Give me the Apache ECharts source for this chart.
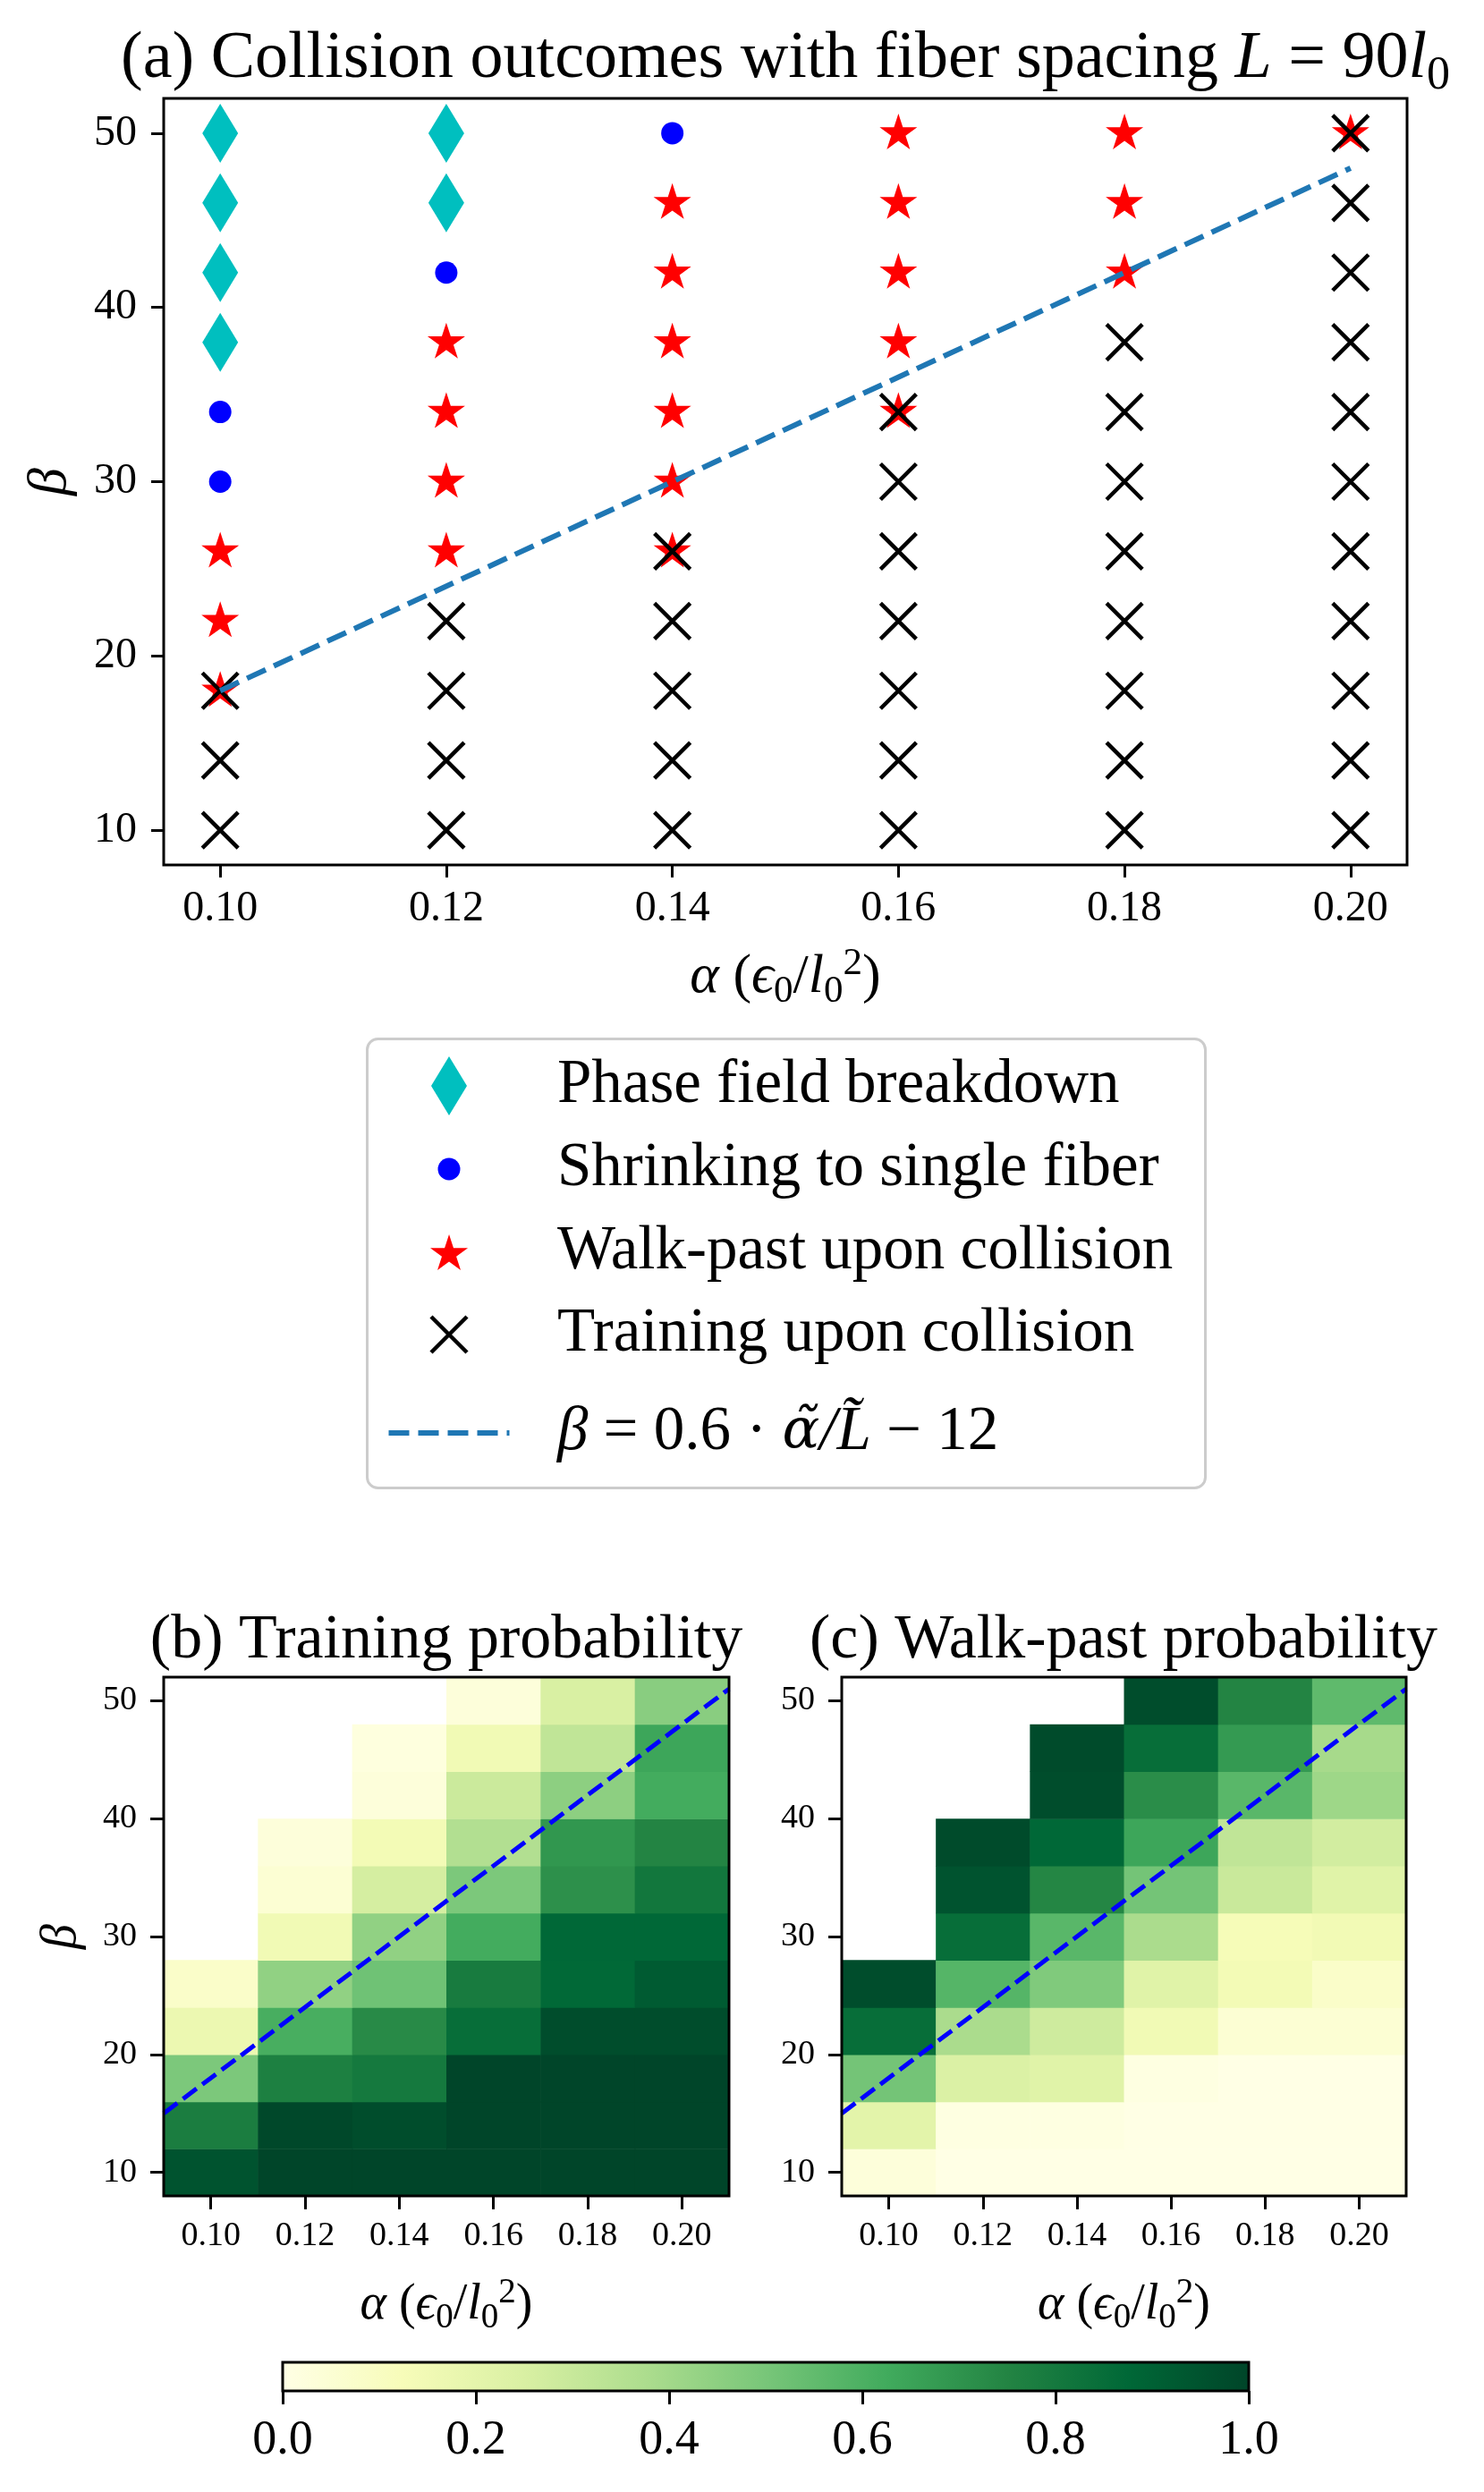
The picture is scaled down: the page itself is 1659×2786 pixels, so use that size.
<!DOCTYPE html>
<html>
<head>
<meta charset="utf-8">
<script src="https://cdn.jsdelivr.net/npm/echarts@6/dist/echarts.min.js"></script>
<style>
html,body{margin:0;padding:0;background:#fff;}
#chart{width:1659px;height:2786px;}
</style>
</head>
<body>
<div id="chart"></div>
<script>
// ---------------- DATA ----------------
const alphaValues = [0.10, 0.12, 0.14, 0.16, 0.18, 0.20];
const betaValues = [10, 14, 18, 22, 26, 30, 34, 38, 42, 46, 50];
const alphaTicks = [0.10, 0.12, 0.14, 0.16, 0.18, 0.20];
const betaTicks = [10, 20, 30, 40, 50];
const colorbarTicks = [0, 0.2, 0.4, 0.6, 0.8, 1.0];
const colorbarRange = [0, 1];

// (a) collision outcomes [alpha, beta]
const breakdownPts = [[0.10, 38], [0.10, 42], [0.10, 46], [0.10, 50], [0.12, 46], [0.12, 50]];
const shrinkPts = [[0.10, 30], [0.10, 34], [0.12, 42], [0.14, 50]];
const walkPastPts = [
  [0.10, 18], [0.10, 22], [0.10, 26],
  [0.12, 26], [0.12, 30], [0.12, 34], [0.12, 38],
  [0.14, 26], [0.14, 30], [0.14, 34], [0.14, 38], [0.14, 42], [0.14, 46],
  [0.16, 34], [0.16, 38], [0.16, 42], [0.16, 46], [0.16, 50],
  [0.18, 42], [0.18, 46], [0.18, 50],
  [0.20, 50]
];
const trainingPts = [
  [0.10, 10], [0.10, 14], [0.10, 18],
  [0.12, 10], [0.12, 14], [0.12, 18], [0.12, 22],
  [0.14, 10], [0.14, 14], [0.14, 18], [0.14, 22], [0.14, 26],
  [0.16, 10], [0.16, 14], [0.16, 18], [0.16, 22], [0.16, 26], [0.16, 30], [0.16, 34],
  [0.18, 10], [0.18, 14], [0.18, 18], [0.18, 22], [0.18, 26], [0.18, 30], [0.18, 34], [0.18, 38],
  [0.20, 10], [0.20, 14], [0.20, 18], [0.20, 22], [0.20, 26], [0.20, 30], [0.20, 34], [0.20, 38], [0.20, 42], [0.20, 46], [0.20, 50]
];
// dashed fit line endpoints
const fitLineA = [[0.10, 18], [0.20, 48]];
const fitLineHeat = [[0.09, 15], [0.21, 51]];

// (b)/(c) probabilities: rows = beta 10..50, cols = alpha 0.10..0.20 ; null = no data
const trainingProb = [
  [0.95, 1.00, 1.00, 1.00, 1.00, 1.00],
  [0.78, 0.99, 0.97, 1.00, 1.00, 1.00],
  [0.49, 0.77, 0.80, 1.00, 1.00, 1.00],
  [0.17, 0.61, 0.73, 0.85, 0.97, 0.97],
  [0.08, 0.44, 0.52, 0.79, 0.87, 0.92],
  [null, 0.15, 0.44, 0.62, 0.875, 0.875],
  [null, 0.05, 0.26, 0.49, 0.71, 0.81],
  [null, 0.03, 0.14, 0.36, 0.69, 0.75],
  [null, null, 0.03, 0.29, 0.45, 0.62],
  [null, null, 0.02, 0.15, 0.32, 0.64],
  [null, null, null, 0.03, 0.25, 0.46]
];
const walkPastProb = [
  [0.03, 0.00, 0.00, 0.00, 0.00, 0.00],
  [0.21, 0.01, 0.01, 0.00, 0.00, 0.00],
  [0.51, 0.24, 0.22, 0.01, 0.00, 0.00],
  [0.85, 0.38, 0.28, 0.15, 0.05, 0.05],
  [0.97, 0.58, 0.48, 0.22, 0.14, 0.08],
  [null, 0.85, 0.57, 0.38, 0.13, 0.145],
  [null, 0.95, 0.745, 0.51, 0.295, 0.22],
  [null, 0.98, 0.875, 0.64, 0.32, 0.27],
  [null, null, 0.97, 0.72, 0.57, 0.41],
  [null, null, 0.98, 0.85, 0.68, 0.39],
  [null, null, null, 0.97, 0.75, 0.556]
];
const ylgn = ['#ffffe5', '#f7fcb9', '#d9f0a3', '#addd8e', '#78c679', '#41ab5d', '#238443', '#006837', '#004529'];

// ---------------- TEXT ----------------
const FONT = '"Liberation Serif", "DejaVu Serif", serif';
const titleA = '(a) Collision outcomes with fiber spacing {i|L} = 90{i|l}{sub|0}';
const titleB = '(b) Training probability';
const titleC = '(c) Walk-past probability';
const alphaLabel = '{i|α} ({i|ϵ}{sub|0}/{i|l}{sub|0}{sup|2})';
const betaLabel = '{i|β}';
const NAME_BREAK = 'Phase field breakdown';
const NAME_SHRINK = 'Shrinking to single fiber';
const NAME_WALK = 'Walk-past upon collision';
const NAME_TRAIN = 'Training upon collision';
const NAME_FIT = 'β = 0.6 · α̃/L̃ − 12';
const fitLegendText = '{i|β} = 0.6 · {ga|α̃}{i|/L̃} − 12';

// ---------------- STYLE HELPERS ----------------
function richSet(size, lh) {
  return {
    i: {fontFamily: FONT, fontStyle: 'italic', fontSize: size, lineHeight: lh, color: '#000'},
    ga: {fontFamily: '"DejaVu Serif", serif', fontStyle: 'italic', fontSize: Math.round(size * 0.9), lineHeight: lh, color: '#000'},
    sub: {fontFamily: FONT, fontSize: Math.round(size * 0.7), lineHeight: Math.round(size * 0.5), verticalAlign: 'bottom', color: '#000'},
    sup: {fontFamily: FONT, fontSize: Math.round(size * 0.7), lineHeight: Math.round(size * 0.5), verticalAlign: 'top', color: '#000'}
  };
}
const DIAMOND = 'path://M0,-33L20,0L0,33L-20,0Z';
const STAR = 'path://M0,-100L22.45,-30.9L95.11,-30.9L36.33,11.8L58.78,80.9L0,38.2L-58.78,80.9L-36.33,11.8L-95.11,-30.9L-22.45,-30.9Z';
const XMARK = 'path://M0,0L10,10M10,0L0,10';
const DASHICON = 'path://M0,0h23v6h-23zM33,0h23v6h-23zM66,0h23v6h-23zM99,0h23v6h-23zM132,0h3v6h-3z';

const cellW = alphaValues[1] - alphaValues[0];
const cellH = betaValues[1] - betaValues[0];
const aSpan = alphaValues[alphaValues.length - 1] - alphaValues[0];
const bSpan = betaValues[betaValues.length - 1] - betaValues[0];
const topXMin = alphaValues[0] - 0.05 * aSpan, topXMax = alphaValues[alphaValues.length - 1] + 0.05 * aSpan;
const topYMin = betaValues[0] - 0.05 * bSpan, topYMax = betaValues[betaValues.length - 1] + 0.05 * bSpan;
const hmXMin = alphaValues[0] - cellW / 2, hmXMax = alphaValues[alphaValues.length - 1] + cellW / 2;
const hmYMin = betaValues[0] - cellH / 2, hmYMax = betaValues[betaValues.length - 1] + cellH / 2;

function cells(matrix) {
  const out = [];
  matrix.forEach((row, bi) => row.forEach((v, ai) => {
    if (v !== null) out.push([alphaValues[ai], betaValues[bi], v]);
  }));
  return out;
}
function renderCell(params, api) {
  const c = api.coord([api.value(0), api.value(1)]);
  const s = api.size([cellW, cellH]);
  return {
    type: 'rect',
    shape: {x: c[0] - s[0] / 2, y: c[1] - s[1] / 2, width: s[0] + 0.6, height: s[1] + 0.6},
    style: {fill: api.visual('color')}
  };
}
function renderColorbar(params, api) {
  const p0 = api.coord([api.value(0), 0]);
  const p1 = api.coord([api.value(1), 1]);
  const stops = ylgn.map((c, i) => ({offset: i / (ylgn.length - 1), color: c}));
  return {
    type: 'rect',
    shape: {x: p0[0], y: p1[1], width: p1[0] - p0[0], height: p0[1] - p1[1]},
    style: {fill: new echarts.graphic.LinearGradient(0, 0, 1, 0, stops)}
  };
}

function xAxisCfg(grid, min, max, ticks, fmt, fontSize, margin, tickLen, name, nameSize, nameGap) {
  const a = {
    gridIndex: grid, type: 'value', min: min, max: max,
    axisLine: {show: false, onZero: false},
    splitLine: {show: false},
    axisTick: {show: true, length: tickLen, lineStyle: {color: '#000', width: 3}, customValues: ticks},
    axisLabel: {customValues: ticks, formatter: fmt, fontFamily: FONT, fontSize: fontSize, color: '#000', margin: margin}
  };
  if (name) {
    a.name = name; a.nameLocation = 'middle'; a.nameGap = nameGap;
    a.nameTextStyle = {fontFamily: FONT, fontSize: nameSize, lineHeight: Math.round(nameSize * 1.2), color: '#000', rich: richSet(nameSize, Math.round(nameSize * 1.2))};
  }
  return a;
}
function yAxisCfg(grid, min, max, ticks, fontSize, margin, tickLen, name, nameSize, nameGap) {
  const a = {
    gridIndex: grid, type: 'value', min: min, max: max,
    axisLine: {show: false, onZero: false},
    splitLine: {show: false},
    axisTick: {show: true, length: tickLen, lineStyle: {color: '#000', width: 3}, customValues: ticks},
    axisLabel: {customValues: ticks, formatter: v => String(v), fontFamily: FONT, fontSize: fontSize, color: '#000', margin: margin}
  };
  if (name) {
    a.name = name; a.nameLocation = 'middle'; a.nameGap = nameGap; a.nameRotate = 90;
    a.nameTextStyle = {fontFamily: FONT, fontSize: nameSize, lineHeight: Math.round(nameSize * 1.2), color: '#000', rich: richSet(nameSize, Math.round(nameSize * 1.2))};
  }
  return a;
}
const gridBase = {show: true, borderColor: '#000', borderWidth: 3, backgroundColor: 'transparent', z: 5, containLabel: false, outerBoundsMode: 'none'};

const legendSpecs = [
  {name: NAME_BREAK, icon: DIAMOND, h: 66, w: 40, cy: 1214, itemStyle: {color: '#00bfbf', borderWidth: 0, opacity: 1}},
  {name: NAME_SHRINK, icon: 'circle', h: 25, w: 25, cy: 1307, itemStyle: {color: '#0000ff', borderWidth: 0, opacity: 1}},
  {name: NAME_WALK, icon: STAR, h: 40, w: 42, cy: 1400, itemStyle: {color: '#ff0000', borderWidth: 0, opacity: 1}},
  {name: NAME_TRAIN, icon: XMARK, h: 40, w: 44.5, cy: 1492, itemStyle: {color: 'rgba(0,0,0,0)', borderColor: '#000', borderWidth: 4.5, opacity: 1}},
  {name: NAME_FIT, icon: DASHICON, h: 6, w: 135, cy: 1602, itemStyle: {color: '#1f77b4', borderWidth: 0, opacity: 1}}
];

const titleStyle = (size) => ({fontFamily: FONT, fontSize: size, fontWeight: 'normal', color: '#000', lineHeight: Math.round(size * 1.2), rich: richSet(size, Math.round(size * 1.2))});

const option = {
  animation: false,
  backgroundColor: '#fff',
  textStyle: {fontFamily: FONT},
  title: [
    {text: titleA, left: 878, top: 67, textAlign: 'center', textVerticalAlign: 'middle', padding: 0, textStyle: titleStyle(74)},
    {text: titleB, left: 499, top: 1835, textAlign: 'center', textVerticalAlign: 'middle', padding: 0, textStyle: titleStyle(70)},
    {text: titleC, left: 1256, top: 1835, textAlign: 'center', textVerticalAlign: 'middle', padding: 0, textStyle: titleStyle(70)}
  ],
  graphic: [{
    type: 'rect', left: 409, top: 1160, z: 0,
    shape: {width: 937, height: 502, r: 12},
    style: {fill: '#fff', stroke: '#cccccc', lineWidth: 3}
  }],
  legend: legendSpecs.map(s => {
    const l = {
      show: true, orient: 'horizontal', left: 502 - s.w / 2, top: s.cy - 40, padding: 0, itemGap: 0,
      itemWidth: 232, itemHeight: s.h, selectedMode: false, symbolKeepAspect: true,
      data: [{name: s.name, icon: s.icon, itemStyle: s.itemStyle}],
      textStyle: {fontFamily: FONT, fontSize: 69, lineHeight: 80, color: '#000', rich: richSet(69, 80)}
    };
    if (s.name === NAME_FIT) l.formatter = () => fitLegendText;
    return l;
  }),
  visualMap: {
    type: 'continuous', show: false, min: 0, max: 1, dimension: 2, seriesIndex: [5, 6],
    inRange: {color: ylgn}
  },
  grid: [
    Object.assign({left: 183, top: 110, width: 1390, height: 857}, gridBase),
    Object.assign({left: 183, top: 1875, width: 632, height: 580}, gridBase),
    Object.assign({left: 941, top: 1875, width: 631, height: 580}, gridBase),
    Object.assign({left: 316, top: 2641, width: 1080, height: 32}, gridBase)
  ],
  xAxis: [
    xAxisCfg(0, topXMin, topXMax, alphaTicks, v => v.toFixed(2), 48, 25, 14, alphaLabel, 62, 89),
    xAxisCfg(1, hmXMin, hmXMax, alphaTicks, v => v.toFixed(2), 38, 26, 15, alphaLabel, 56, 89),
    xAxisCfg(2, hmXMin, hmXMax, alphaTicks, v => v.toFixed(2), 38, 26, 15, alphaLabel, 56, 89),
    xAxisCfg(3, colorbarRange[0], colorbarRange[1], colorbarTicks, v => v.toFixed(1), 54, 29, 15, null)
  ],
  yAxis: [
    yAxisCfg(0, topYMin, topYMax, betaTicks, 48, 30, 14, betaLabel, 62, 88),
    yAxisCfg(1, hmYMin, hmYMax, betaTicks, 38, 30, 15, betaLabel, 56, 80),
    yAxisCfg(2, hmYMin, hmYMax, betaTicks, 38, 30, 15, null),
    {gridIndex: 3, type: 'value', min: 0, max: 1, show: false}
  ],
  series: [
    {name: NAME_BREAK, type: 'scatter', xAxisIndex: 0, yAxisIndex: 0, data: breakdownPts, symbol: DIAMOND, symbolSize: [40, 66], itemStyle: {color: '#00bfbf', opacity: 1}, silent: true},
    {name: NAME_SHRINK, type: 'scatter', xAxisIndex: 0, yAxisIndex: 0, data: shrinkPts, symbol: 'circle', symbolSize: 25, itemStyle: {color: '#0000ff', opacity: 1}, silent: true},
    {name: NAME_WALK, type: 'scatter', xAxisIndex: 0, yAxisIndex: 0, data: walkPastPts, symbol: STAR, symbolSize: [42, 40], symbolOffset: [0, -2], itemStyle: {color: '#ff0000', opacity: 1}, silent: true},
    {name: NAME_TRAIN, type: 'scatter', xAxisIndex: 0, yAxisIndex: 0, data: trainingPts, symbol: XMARK, symbolSize: 40, itemStyle: {color: 'rgba(0,0,0,0)', borderColor: '#000', borderWidth: 4.5, opacity: 1}, silent: true},
    {name: NAME_FIT, type: 'line', xAxisIndex: 0, yAxisIndex: 0, data: fitLineA, symbol: 'none', showSymbol: false, z: 3, itemStyle: {color: '#1f77b4'}, lineStyle: {color: '#1f77b4', width: 6, type: [23, 10], opacity: 1}, silent: true},
    {name: 'training', type: 'custom', xAxisIndex: 1, yAxisIndex: 1, data: cells(trainingProb), dimensions: ['alpha', 'beta', 'p'], encode: {x: 0, y: 1}, renderItem: renderCell, silent: true},
    {name: 'walkpast', type: 'custom', xAxisIndex: 2, yAxisIndex: 2, data: cells(walkPastProb), dimensions: ['alpha', 'beta', 'p'], encode: {x: 0, y: 1}, renderItem: renderCell, silent: true},
    {name: 'fitB', type: 'line', xAxisIndex: 1, yAxisIndex: 1, data: fitLineHeat, symbol: 'none', z: 3, lineStyle: {color: '#0000ff', width: 5, type: [19, 8], opacity: 1}, silent: true},
    {name: 'fitC', type: 'line', xAxisIndex: 2, yAxisIndex: 2, data: fitLineHeat, symbol: 'none', z: 3, lineStyle: {color: '#0000ff', width: 5, type: [19, 8], opacity: 1}, silent: true},
    {name: 'colorbar', type: 'custom', xAxisIndex: 3, yAxisIndex: 3, data: [[colorbarRange[0], colorbarRange[1]]], encode: {x: [0, 1]}, renderItem: renderColorbar, silent: true}
  ]
};

const chart = echarts.init(document.getElementById('chart'), null, {renderer: 'canvas', width: 1659, height: 2786});
chart.setOption(option);
</script>
</body>
</html>
